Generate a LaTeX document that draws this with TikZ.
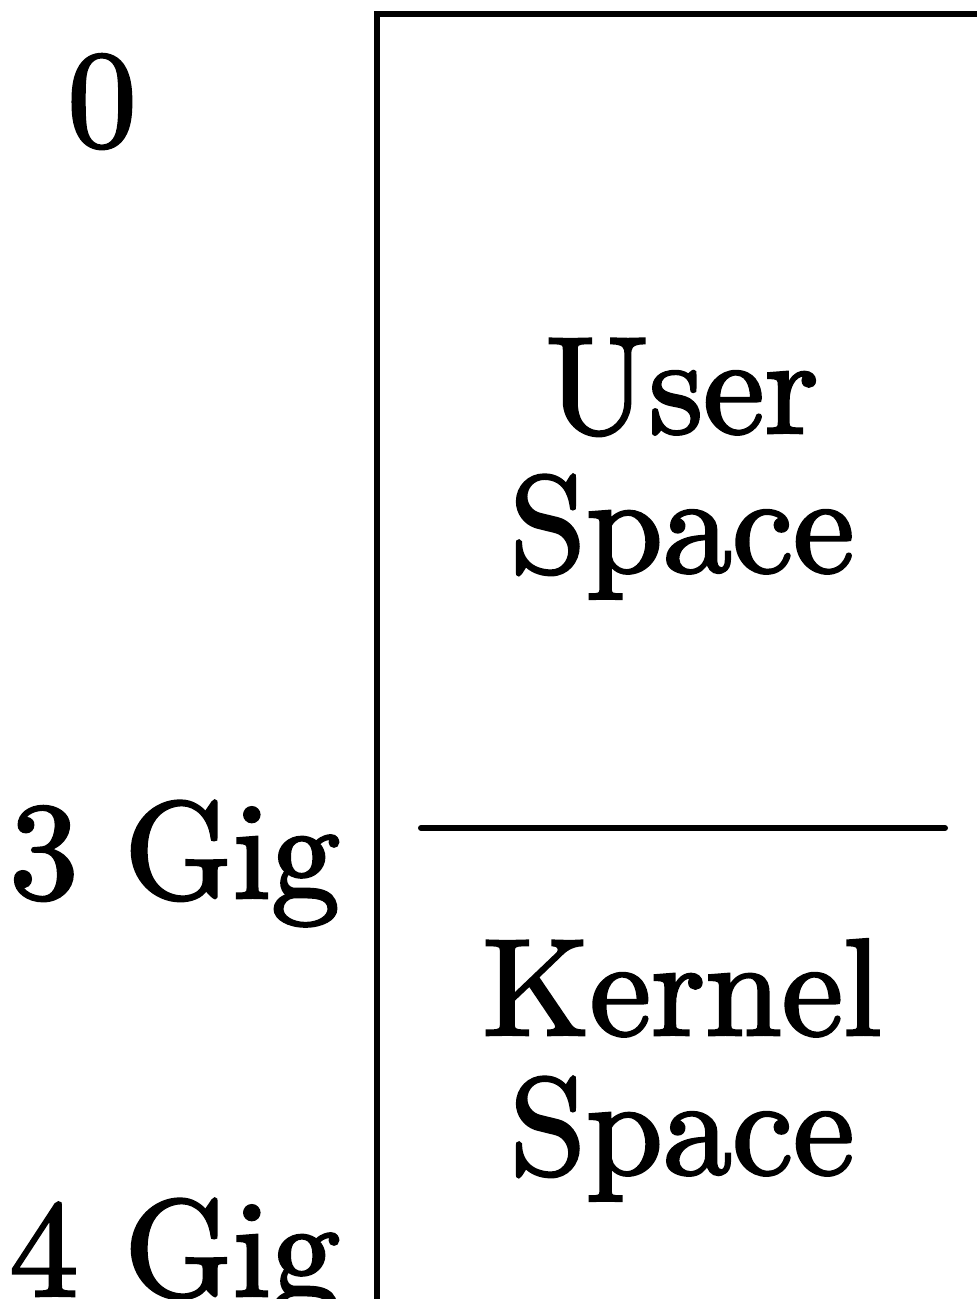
\documentclass[tikz,border=0pt]{standalone}
\usepackage{fontspec}
\setmainfont{lmroman10-regular}[Extension=.otf,FakeBold=2]
\begin{document}
\begin{tikzpicture}[x=0.5pt,y=-0.5pt,
  lbl/.style={inner sep=0pt,font=\fontsize{69}{80}\selectfont},
  rule/.style={line width=3pt}]
\useasboundingbox (0,0) rectangle (977,1299);
% frame
\coordinate (tr) at (990,14);
\coordinate (tl) at (377,14);
\coordinate (bl) at (377,1320);
\draw[rule,line join=miter] (tr) -- (tl) -- (bl);
% divider
\coordinate (dl) at (421,828);
\coordinate (dr) at (945,828);
\draw[rule,line cap=round] (dl) -- (dr);
% address labels
\node[lbl,anchor=base] (zero) at (102,146) {0};
\node[lbl,anchor=base west] (three) at (9,898) {3 Gig};
\node[lbl,anchor=base west] (four) at (9,1296) {4 Gig};
% region labels
\node[lbl,anchor=base] (user1) at (682,433) {User};
\node[lbl,anchor=base] (user2) at (682,572) {Space};
\node[lbl,anchor=base] (kern1) at (682,1035) {Kernel};
\node[lbl,anchor=base] (kern2) at (682,1174) {Space};
\end{tikzpicture}
\end{document}
